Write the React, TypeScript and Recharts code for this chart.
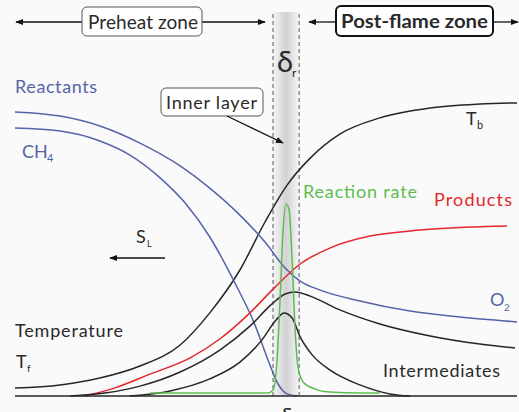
import { ComposedChart, Line, XAxis, YAxis, ReferenceArea, ReferenceLine } from 'recharts'

// distance across the flame (0..100) and normalised level (0..100)
const temperature: [number, number][] = [
  [0, 2.7], [9.0, 3.7], [16.9, 6], [24.9, 10], [32.9, 17], [38.8, 27.7], [44.8, 42],
  [49.8, 58], [54.2, 70.3], [58.8, 79.3], [64.7, 87.3], [72.7, 92.7], [82.7, 96],
  [92.6, 97.3], [100, 97.7],
]
const oxygen: [number, number][] = [
  [0, 94.7], [9.0, 93.3], [16.9, 90], [24.9, 84.3], [32.9, 76.7], [38.8, 69.3], [44.8, 60.3],
  [49.8, 51.3], [53.8, 42.7], [56.8, 38.3], [60.8, 35.3], [68.7, 31.7], [78.7, 28.3],
  [88.6, 26.3], [100, 24.7],
]
const methane: [number, number][] = [
  [0, 89.3], [9.0, 88.3], [16.9, 85], [22.9, 80.3], [28.9, 72.7], [33.9, 64.3], [38.8, 53],
  [43.8, 37.7], [47.8, 23.7], [50.4, 12], [52.4, 4], [54.2, 0.7], [56.2, 0],
]
const products: [number, number][] = [
  [13.9, 0], [19.9, 2.7], [26.9, 7.3], [34.9, 12.7], [40.8, 19], [46.8, 27.7], [51.8, 36.3],
  [56.8, 44], [62.7, 49.3], [70.7, 53.3], [80.7, 55.3], [90.6, 56.3], [98.0, 56.7],
]
const intermediateA: [number, number][] = [
  [11.0, 0], [17.9, 1], [24.9, 3.3], [32.9, 8], [40.8, 15.3], [46.8, 23.3], [51.2, 30.7],
  [53.8, 34], [55.8, 34.7], [58.8, 33.3], [64.7, 28.7], [72.7, 24], [82.7, 20], [92.6, 17.3],
  [99.6, 16],
]
const intermediateB: [number, number][] = [
  [22.9, 0], [30.9, 1.7], [38.8, 5.7], [44.8, 11.3], [49.2, 18.7], [52.0, 25.3], [53.6, 27.7],
  [55.2, 26], [56.8, 19.7], [59.2, 13.7], [62.7, 8.7], [68.7, 3.7], [74.7, 0.7], [78.7, 0],
]
const reactionRate: [number, number][] = [
  [26.9, 1], [50.4, 1], [51.4, 2], [52.2, 12], [52.8, 32], [53.4, 55.3], [54.0, 64],
  [54.6, 62], [55.2, 45.3], [55.8, 22], [56.4, 9.3], [57.4, 4.7], [59.8, 2.3], [62.7, 1.3],
  [68.7, 1], [72.7, 1],
]
const innerLayer = [51.4, 56.6]

const toRows = (pts: [number, number][]) => pts.map(([x, y]) => ({ x, y }))

const BLACK = '#262626'
const BLUE = '#5563a8'
const RED = '#e4262a'
const GREEN = '#5cbd4f'
const FONT = 'Lato, "Open Sans", sans-serif'

const series = [
  { key: 'T', pts: temperature, color: BLACK },
  { key: 'O2', pts: oxygen, color: BLUE },
  { key: 'CH4', pts: methane, color: BLUE },
  { key: 'P', pts: products, color: RED },
  { key: 'IA', pts: intermediateA, color: BLACK },
  { key: 'IB', pts: intermediateB, color: BLACK },
  { key: 'RR', pts: reactionRate, color: GREEN },
]

function Annotations() {
  const t = { fontFamily: FONT, fontSize: 18, fill: '#2a2a2a' }
  return (
    <svg width={519} height={412} style={{ position: 'absolute', left: 0, top: 0, pointerEvents: 'none' }}>
      <defs>
        <marker id="ah" viewBox="0 0 10 10" refX="9" refY="5" markerWidth="8" markerHeight="8" orient="auto-start-reverse" markerUnits="userSpaceOnUse">
          <path d="M0,1 L10,5 L0,9 z" fill="#111" />
        </marker>
      </defs>
      {/* zone headers */}
      <line x1={82} y1={22} x2={16} y2={22} stroke="#111" strokeWidth={1.3} markerEnd="url(#ah)" />
      <line x1={202} y1={22} x2={265} y2={22} stroke="#111" strokeWidth={1.3} markerEnd="url(#ah)" />
      <rect x={82} y={7} width={120} height={29} rx={5} fill="#fff" stroke="#555" strokeWidth={1} />
      <text x={88} y={29} {...t} fontSize={19} textLength={110}>Preheat zone</text>
      <line x1={336} y1={22} x2={309} y2={22} stroke="#111" strokeWidth={1.3} markerEnd="url(#ah)" />
      <line x1={493} y1={22} x2={518} y2={22} stroke="#111" strokeWidth={1.3} markerEnd="url(#ah)" />
      <rect x={336} y={6} width={157} height={30} rx={5} fill="#fff" stroke="#111" strokeWidth={2} />
      <text x={341} y={28} {...t} fontSize={19} fontWeight={700} textLength={147} lengthAdjust="spacingAndGlyphs">Post-flame zone</text>
      {/* delta r */}
      <text x={277} y={72} {...t} fontSize={29}>δ</text>
      <text x={292} y={77} {...t} fontSize={12}>r</text>
      {/* inner layer */}
      <rect x={161} y={88} width={102} height={28} rx={5} fill="#fff" stroke="#555" strokeWidth={1} />
      <text x={166} y={109} {...t} textLength={91}>Inner layer</text>
      <line x1={227} y1={116} x2={283} y2={143} stroke="#111" strokeWidth={1.3} markerEnd="url(#ah)" />
      {/* species labels */}
      <text x={15} y={93} {...t} fill={BLUE} textLength={82}>Reactants</text>
      <text x={22} y={158} {...t} fill={BLUE}>CH</text>
      <text x={47} y={162} {...t} fontSize={11} fill={BLUE}>4</text>
      <text x={466} y={125} {...t}>T</text>
      <text x={477} y={129} {...t} fontSize={11}>b</text>
      <text x={303} y={198} {...t} fill={GREEN} textLength={114}>Reaction rate</text>
      <text x={434} y={206} {...t} fill={RED} textLength={78}>Products</text>
      <text x={136} y={243} {...t}>S</text>
      <text x={147} y={247} {...t} fontSize={9}>L</text>
      <line x1={165} y1={258} x2={110} y2={258} stroke="#111" strokeWidth={1.3} markerEnd="url(#ah)" />
      <text x={490} y={306} {...t} fill={BLUE}>O</text>
      <text x={504} y={311} {...t} fontSize={10} fill={BLUE}>2</text>
      <text x={15} y={337} {...t} textLength={108}>Temperature</text>
      <text x={16} y={368} {...t}>T</text>
      <text x={27} y={372} {...t} fontSize={10}>f</text>
      <text x={383} y={377} {...t} textLength={117}>Intermediates</text>
      <text x={281} y={423} {...t} fontSize={22}>δ</text>
    </svg>
  )
}

export default function App() {
  return (
    <div style={{ position: 'absolute', left: 0, top: 0, width: 519, height: 412, background: '#fafafa' }}>
      <ComposedChart width={519} height={412} margin={{ top: 12, right: 2, bottom: 16, left: 15 }}>
        <defs>
          <linearGradient id="band" x1="0" y1="0" x2="1" y2="0">
            <stop offset="0%" stopColor="#f4f4f4" />
            <stop offset="50%" stopColor="#d2d2d2" />
            <stop offset="100%" stopColor="#f5f5f5" />
          </linearGradient>
        </defs>
        <XAxis type="number" dataKey="x" domain={[0, 100]} hide allowDuplicatedCategory={false} />
        <YAxis type="number" domain={[0, 128]} hide />
        <ReferenceArea x1={innerLayer[0]} x2={innerLayer[1]} y1={0} y2={128} fill="url(#band)" fillOpacity={1} stroke="none" />
        <ReferenceLine x={innerLayer[0]} stroke="#555" strokeDasharray="4 3" />
        <ReferenceLine x={innerLayer[1]} stroke="#555" strokeDasharray="4 3" />
        {series.map(s => (
          <Line
            key={s.key}
            data={toRows(s.pts)}
            dataKey="y"
            type="monotone"
            stroke={s.color}
            strokeWidth={1.5}
            dot={false}
            isAnimationActive={false}
          />
        ))}
        <ReferenceLine y={0} stroke={BLACK} strokeWidth={1.6} />
      </ComposedChart>
      <Annotations />
    </div>
  )
}
